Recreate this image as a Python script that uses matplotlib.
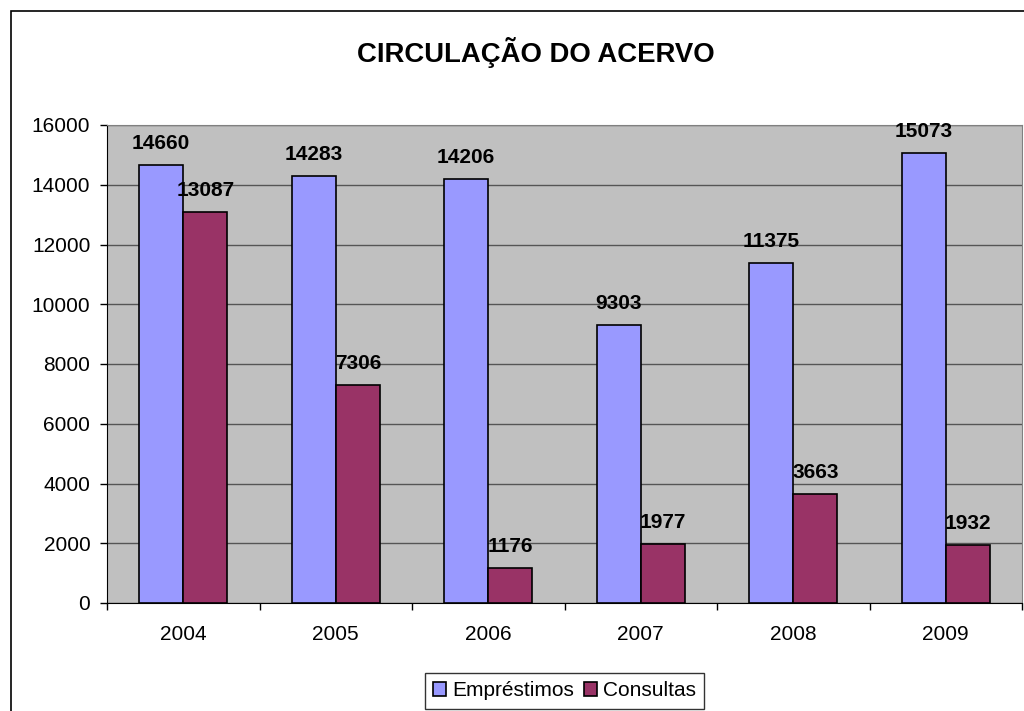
import numpy as np
import matplotlib.pyplot as plt
from matplotlib.patches import Rectangle

# --- Data ---
years = ['2004', '2005', '2006', '2007', '2008', '2009']
emprestimos = [14660, 14283, 14206, 9303, 11375, 15073]
consultas = [13087, 7306, 1176, 1977, 3663, 1932]

plt.rcParams['font.family'] = ['Liberation Sans', 'DejaVu Sans']

fig = plt.figure(figsize=(10.24, 7.11), dpi=100)
ax = fig.add_axes([107/1024, 1 - 603/711, (1022 - 107)/1024, (603 - 125)/711])

x = np.arange(len(years))
w = 0.29
b1 = ax.bar(x - w/2, emprestimos, w, color='#9999FF', edgecolor='black', linewidth=1.2,
            label='Empréstimos', zorder=3)
b2 = ax.bar(x + w/2, consultas, w, color='#993366', edgecolor='black', linewidth=1.2,
            label='Consultas', zorder=3)

for bars in (b1, b2):
    for r in bars:
        ax.annotate(f"{int(r.get_height())}", (r.get_x() + r.get_width()/2, r.get_height()),
                    xytext=(0, 8.5), textcoords='offset points', ha='center', va='bottom',
                    fontsize=15, fontweight='bold', zorder=4)

ax.set_facecolor('#C0C0C0')
ax.set_xlim(-0.5, len(years) - 0.5)
ax.set_ylim(0, 16000)
ax.set_yticks(range(0, 16001, 2000))
ax.yaxis.grid(True, color='#555555', linewidth=1, zorder=1)
ax.set_xticks(x)
ax.set_xticklabels(years)
ax.set_xticks(np.arange(-0.5, len(years)), minor=True)
ax.tick_params(axis='x', which='major', length=0, pad=16, labelsize=15)
ax.tick_params(axis='x', which='minor', length=5, width=1)
ax.tick_params(axis='y', length=5, width=1, pad=7, labelsize=15)

for s in ('top', 'right'):
    ax.spines[s].set_color('#808080')
ax.spines['left'].set_color('black')
ax.spines['bottom'].set_color('black')

fig.text(536/1024, 1 - 53/711, 'CIRCULAÇÃO DO ACERVO', ha='center', va='center',
         fontsize=19.8, fontweight='bold')

leg = ax.legend(loc='upper center', bbox_to_anchor=(0.5, -(673 - 603)/478), ncol=2,
                frameon=True, fancybox=False, edgecolor='black', fontsize=15,
                handlelength=0.6, handleheight=0.6, handletextpad=0.3, columnspacing=0.5,
                borderpad=0.4, borderaxespad=0)
leg.get_frame().set_linewidth(1)

fig.patches.append(Rectangle((11/1024, -0.1), 1.1, 1 - 11/711 + 0.1, transform=fig.transFigure,
                             fill=False, edgecolor='black', linewidth=1.2))

fig.savefig('out.png', dpi=100)
